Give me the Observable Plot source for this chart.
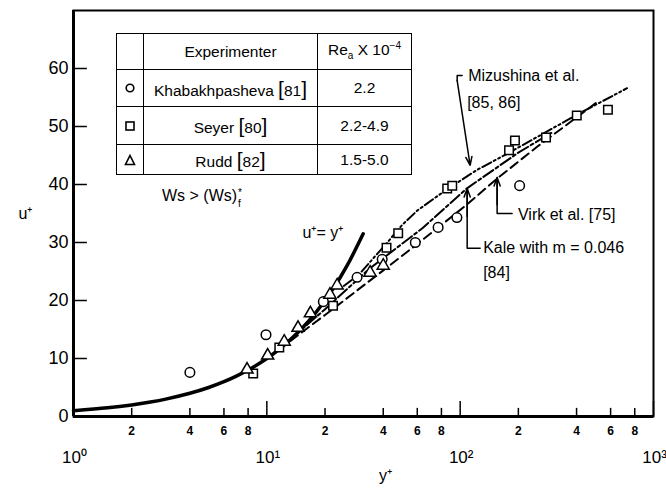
<!DOCTYPE html>
<html><head><meta charset="utf-8">
<script src="https://cdn.jsdelivr.net/npm/d3@7"></script>
<script src="https://cdn.jsdelivr.net/npm/@observablehq/plot@0.6"></script>
<style>
body{margin:0;background:#fff;}
#wrap{position:relative;width:666px;height:491px;font-family:"Liberation Sans",Arial,sans-serif;color:#000;}
#wrap > svg{position:absolute;left:0;top:0;}
#legend{position:absolute;left:116px;top:33px;border-collapse:collapse;background:#fff;}
#legend td{border:1.5px solid #000;text-align:center;padding:0;font-size:15.5px;line-height:1;}
#legend td svg{display:block;margin:auto;}
.br{font-size:21px;font-weight:300;}
#ws{position:absolute;left:162px;top:186px;font-size:16px;white-space:nowrap;line-height:20px;}
.stk{display:inline-block;font-size:10px;line-height:11px;vertical-align:-6px;margin-left:1px;}
.stk span{display:block;}
</style></head><body><div id="wrap"></div>
<script>
// Khabakhpasheva [81] (circles)
const khabYplus = [4.0, 9.9, 19.6, 29.3, 39.5, 58.6, 76.9, 96.2, 203];
const khabUplus = [7.6, 14.1, 19.8, 24.0, 27.1, 30.0, 32.6, 34.3, 39.8];
// Seyer [80] (squares)
const seyerYplus = [8.5, 11.6, 22.0, 41.6, 47.8, 85.7, 91, 179, 192, 278, 401, 581];
const seyerUplus = [7.4, 11.9, 19.1, 29.1, 31.6, 39.3, 39.8, 45.9, 47.6, 48.1, 51.9, 52.9];
// Rudd [82] (triangles)
const ruddYplus = [7.9, 10.1, 12.3, 14.5, 16.8, 21.2, 23.1, 34.2, 40];
const ruddUplus = [8.1, 10.5, 12.9, 15.3, 17.8, 21.0, 22.6, 24.8, 26.0];
// u+ = y+ (viscous sublayer)
const sublayerYplus = [1, 1.5, 2, 2.5, 3, 4, 5, 6, 7, 8, 10, 12, 15, 18, 22, 26, 31.5];
const sublayerUplus = [1, 1.5, 2, 2.5, 3, 4, 5, 6, 7, 8, 10, 12, 15, 18, 22, 26, 31.5];
// Virk et al. [75]
const virkYplus = [11.6, 20, 30, 45, 70, 108, 155, 250, 520];
const virkUplus = [11.6, 17.5, 22, 26.5, 31.5, 36.5, 41, 46.5, 54.4];
// Kale with m = 0.046 [84]
const kaleYplus = [11, 20, 34, 64, 108, 200, 300];
const kaleUplus = [11, 18.5, 25.5, 32.5, 39.3, 45.5, 49];
// Mizushina et al. [85, 86]
const mizuYplus = [25, 30, 36, 42, 50, 60, 84, 122, 175, 260, 400, 730];
const mizuUplus = [22.5, 24.5, 27.5, 30, 33, 35.5, 39, 42.5, 45.3, 48.5, 52, 56.6];
// ticks
const yTicks = [0, 10, 20, 30, 40, 50, 60];
const xMinor = [2, 4, 6, 8, 20, 40, 60, 80, 200, 400, 600, 800];
const xMinorLabels = ["2", "4", "6", "8", "2", "4", "6", "8", "2", "4", "6", "8"];
const xMajor = [1, 10, 100, 1000];
const xMajorLabels = ["10\u2070", "10\u00b9", "10\u00b2", "10\u00b3"];
// annotations
const annoText = ["Mizushina et al.", "[85, 86]", "Virk et al. [75]", "Kale with m = 0.046", "[84]", "u\u207a= y\u207a"];
const annoX = [110, 108.7, 199, 131.5, 131.5, 15.3];
const annoY = [58.8, 54.0, 34.7, 29.0, 24.7, 31.6];
const mizuLeaderX = [102.4, 96.5, 96.5];
const mizuLeaderY = [58.8, 58.8, 57.9];
const virkLeaderX = [185.6, 155.3, 155.3];
const virkLeaderY = [35.0, 35.0, 41.2];
const kaleLeaderX = [126.9, 108.7, 108.7];
const kaleLeaderY = [29.0, 29.0, 39.3];

const zip = (xs, ys) => xs.map((x, i) => ({x, y: ys[i]}));
const khab = zip(khabYplus, khabUplus);
const seyer = zip(seyerYplus, seyerUplus);
const rudd = zip(ruddYplus, ruddUplus);
const sub = zip(sublayerYplus, sublayerUplus);
const virk = zip(virkYplus, virkUplus);
const kale = zip(kaleYplus, kaleUplus);
const mizu = zip(mizuYplus, mizuUplus);
const anno = annoText.map((t, i) => ({t, x: annoX[i], y: annoY[i]}));
const mizuL = zip(mizuLeaderX, mizuLeaderY);
const virkL = zip(virkLeaderX, virkLeaderY);
const kaleL = zip(kaleLeaderX, kaleLeaderY);
const arrows = [
  {x1: 96.5, y1: 57.9, x2: 112.6, y2: 43.3},
  {x1: 155.3, y1: 36.5, x2: 155.3, y2: 41.2},
  {x1: 108.7, y1: 34.5, x2: 108.7, y2: 39.3}
];

const dotOpts = {x: "x", y: "y", fill: "white", stroke: "black", strokeWidth: 1.5};

const chart = Plot.plot({
  width: 666, height: 491,
  marginLeft: 73, marginRight: 13, marginTop: 10, marginBottom: 75,
  x: {type: "log", domain: [1, 1000], axis: null},
  y: {domain: [0, 70], axis: null},
  style: {fontFamily: "Liberation Sans, Arial, sans-serif", background: "white", color: "black", overflow: "visible"},
  marks: [
    Plot.frame({strokeWidth: 2}),
    Plot.ruleX([1], {strokeWidth: 3}),
    Plot.ruleY([0], {strokeWidth: 3}),
    Plot.ruleY(yTicks, {y: d => d, x1: 1, x2: 1.18, strokeWidth: 1.5}),
    Plot.text(yTicks, {x: 1, y: d => d, dx: -5, textAnchor: "end", fontSize: 18, text: d => String(d)}),
    Plot.ruleX(xMinor, {x: d => d, y1: 0, y2: 1.4, strokeWidth: 1.5}),
    Plot.ruleX(xMajor, {x: d => d, y1: 0, y2: 2.6, strokeWidth: 1.5}),
    Plot.text(xMinor, {x: d => d, y: 0, dy: 15, text: (d, i) => xMinorLabels[i], fontSize: 12, fontWeight: "bold"}),
    Plot.text(xMajor, {x: d => d, y: 0, dy: 41, dx: 1, text: (d, i) => xMajorLabels[i], fontSize: 17}),
    Plot.text(["u\u207a"], {frameAnchor: "left", dx: -55, fontSize: 16}),
    Plot.text(["y\u207a"], {frameAnchor: "bottom", dx: 22, dy: 64, fontSize: 16}),
    // curves
    Plot.line(virk, {x: "x", y: "y", strokeWidth: 2, strokeDasharray: "9,5"}),
    Plot.line(kale, {x: "x", y: "y", strokeWidth: 2, strokeDasharray: "12,3,3,3"}),
    Plot.line(mizu, {x: "x", y: "y", strokeWidth: 2, strokeDasharray: "10,3,2,3,2,3"}),
    Plot.line(sub, {x: "x", y: "y", strokeWidth: 3.5, curve: "catmull-rom"}),
    // leaders
    Plot.line(mizuL, {x: "x", y: "y", strokeWidth: 1.5}),
    Plot.line(virkL, {x: "x", y: "y", strokeWidth: 1.5}),
    Plot.line(kaleL, {x: "x", y: "y", strokeWidth: 1.5}),
    Plot.arrow(arrows, {x1: "x1", y1: "y1", x2: "x2", y2: "y2", strokeWidth: 1.5, headLength: 9, headAngle: 40}),
    Plot.text(anno, {x: "x", y: "y", text: "t", textAnchor: "start", fontSize: 16}),
    // data
    Plot.dot(khab, {...dotOpts, symbol: "circle", r: 4.8}),
    Plot.dot(seyer, {...dotOpts, symbol: "square", r: 4.8}),
    Plot.dot(rudd, {...dotOpts, symbol: "triangle", r: 4.5})
  ]
});

const symCircle = `<svg width="12" height="12"><circle cx="6" cy="6" r="3.8" fill="none" stroke="#000" stroke-width="1.6"/></svg>`;
const symSquare = `<svg width="12" height="12"><rect x="2" y="2" width="8" height="8" fill="none" stroke="#000" stroke-width="1.6"/></svg>`;
const symTri = `<svg width="12" height="12"><path d="M6,1.5L10.5,10.5L1.5,10.5Z" fill="none" stroke="#000" stroke-width="1.6"/></svg>`;

const wrap = document.getElementById("wrap");
wrap.appendChild(chart);
wrap.insertAdjacentHTML("beforeend", `
<table id="legend">
<tr style="height:36px"><td style="width:26px"></td><td style="width:173px">Experimenter</td><td style="width:93px">Re<sub style="font-size:10px">a</sub> X 10<sup style="font-size:10px">\u22124</sup></td></tr>
<tr style="height:37px"><td>${symCircle}</td><td>Khabakhpasheva <span class="br">[</span>81<span class="br">]</span></td><td>2.2</td></tr>
<tr style="height:38px"><td>${symSquare}</td><td>Seyer <span class="br">[</span>80<span class="br">]</span></td><td>2.2-4.9</td></tr>
<tr style="height:30px"><td>${symTri}</td><td>Rudd <span class="br">[</span>82<span class="br">]</span></td><td>1.5-5.0</td></tr>
</table>
<div id="ws">Ws &gt; (Ws)<span class="stk"><span>*</span><span>f</span></span></div>`);
</script>
</body></html>
